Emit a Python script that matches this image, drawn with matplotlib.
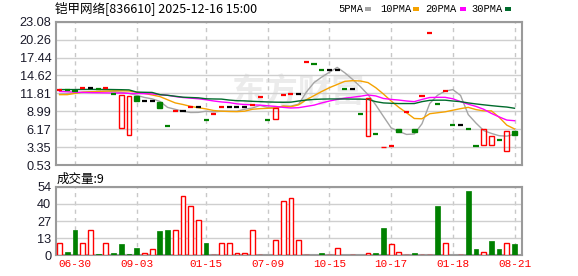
import matplotlib
matplotlib.use("Agg")
import matplotlib.pyplot as plt
from matplotlib.patches import Rectangle
import numpy as np

# daily candles (60 trading days)
opens = [12.33, 12.28, 12.2, 12.59, 12.59, 12.45, 12.59, 11.7, 6.42, 5.32,
         11.43, 10.6, 10.6, 10.4, 6.64, 9.08, 9.08, 9.62, 9.62, 7.58,
         8.57, 9.62, 9.62, 9.62, 9.62, 9.9, 11.18, 7.58, 7.74, 11.54,
         11.65, 11.65, 16.75, 16.35, 15.45, 15.45, 15.45, 12.45, 12.45, 8.55,
         5.07, 5.33, 3.3, 3.53, 6.2, 8.83, 6.2, 11.4, 21.37, 10.2,
         12.15, 6.85, 6.85, 6.25, 3.55, 3.63, 3.72, 4.5, 2.73, 5.9]
closes = [12.33, 12.28, 12.2, 12.59, 12.59, 12.45, 12.59, 11.7, 11.5, 11.42,
          10.6, 10.6, 10.6, 9.55, 6.64, 9.08, 9.08, 9.62, 9.62, 7.58,
          8.57, 9.62, 9.62, 9.62, 9.62, 9.9, 11.18, 7.58, 9.46, 11.54,
          11.65, 11.65, 16.75, 16.35, 15.45, 15.45, 15.45, 12.45, 12.45, 8.55,
          11.15, 5.33, 3.35, 3.53, 5.67, 8.83, 5.67, 11.4, 21.37, 10.2,
          12.15, 6.85, 6.85, 6.25, 3.55, 6.25, 5.13, 4.5, 5.9, 5.2]
pre_close = 12.2
volumes = [9.4, 2.8, 19.9, 9.4, 19.9, 1.0, 9.4, 1.8, 8.9, 1.0,
           5.7, 1.8, 4.7, 19.1, 19.9, 19.9, 46.7, 38.8, 27.8, 9.7,
           0.6, 9.4, 9.4, 1.8, 1.8, 19.9, 0.6, 0.6, 12.0, 42.7,
           44.9, 11.8, 0.6, 0.6, 1.8, 0.6, 5.5, 0.6, 0.6, 0.6,
           1.8, 1.8, 21.5, 8.9, 2.6, 0.6, 1.8, 0.6, 0.6, 38.8,
           9.4, 0.6, 0.6, 50.6, 5.0, 2.6, 11.3, 5.0, 9.7, 8.9]

# moving average lines as drawn
ma5 = [11.7, 11.75, 11.85, 11.95, 12.05, 12.1, 12.15, 12.1, 11.95, 11.8,
       11.5, 11.16, 10.94, 10.55, 9.6, 9.29, 8.99, 8.79, 8.81, 9.0,
       8.89, 9.0, 9.0, 9.0, 9.3, 9.5, 9.9, 9.58, 9.55, 9.8,
       9.8, 10.1, 12.0, 13.5, 14.37, 15.13, 15.89, 15.03, 14.0, 12.87,
       11.6, 9.99, 8.17, 6.38, 5.81, 5.34, 5.41, 7.02, 10.2, 11.49,
       12.16, 12.39, 11.48, 8.46, 7.13, 5.95, 5.5, 5.14, 5.07, 5.35]
ma10 = [11.6, 11.6, 11.8, 12.0, 12.05, 12.1, 12.15, 12.2, 12.2, 12.17,
        12.0, 11.8, 11.55, 11.3, 10.8, 10.3, 10.05, 9.75, 9.55, 9.35,
        9.1, 9.0, 8.95, 8.93, 9.0, 9.3, 9.4, 9.45, 9.5, 9.8,
        9.7, 10.0, 10.8, 11.45, 12.1, 12.7, 13.2, 13.7, 13.8, 13.75,
        13.5, 12.7, 11.7, 10.6, 9.6, 8.75, 7.85, 7.8, 8.6, 8.75,
        8.9, 9.15, 9.4, 9.6, 9.25, 9.05, 9.05, 8.05, 6.8, 6.2]
ma20 = [12.1, 12.05, 12.0, 11.95, 11.92, 11.9, 11.88, 11.85, 11.85, 11.8,
        11.78, 11.75, 11.72, 11.6, 11.5, 11.3, 11.15, 11.05, 10.95, 10.8,
        10.6, 10.45, 10.35, 10.15, 10.05, 10.0, 9.95, 9.85, 9.75, 9.6,
        9.5, 9.55, 9.75, 9.95, 10.3, 10.6, 10.85, 11.05, 11.2, 11.35,
        11.55, 11.4, 11.0, 10.85, 10.75, 10.6, 10.5, 10.85, 11.15, 11.18,
        11.18, 10.95, 10.5, 10.1, 9.75, 9.3, 8.65, 8.1, 7.6, 7.5]
ma30 = [12.4, 12.4, 12.4, 12.42, 12.42, 12.42, 12.42, 12.4, 12.38, 12.35,
        12.0, 11.97, 11.95, 11.6, 11.5, 11.35, 11.2, 11.15, 11.1, 10.95,
        10.92, 10.9, 10.75, 10.65, 10.62, 10.55, 10.5, 10.45, 10.42, 10.4,
        10.42, 10.6, 10.75, 10.85, 10.9, 10.92, 10.92, 10.92, 10.9, 10.9,
        10.85, 10.5, 10.3, 10.24, 10.2, 10.2, 10.2, 10.5, 10.7, 10.73,
        10.73, 10.6, 10.5, 10.3, 10.14, 10.0, 9.87, 9.75, 9.65, 9.46]

price_ticks = [0.53, 3.35, 6.17, 8.99, 11.81, 14.62, 17.44, 20.26, 23.08]
vol_ticks = [0, 13.5, 27, 40.5, 54]
vol_labels = ["0", "13", "27", "40", "54"]
tick_idx = [2, 10, 19, 27, 35, 43, 51, 59]
tick_labels = ["06-30", "09-03", "01-15", "07-09", "10-15", "10-17", "01-18", "08-21"]

RED = "#ff0000"
GREEN = "#008000"
ma_colors = ["#a5a5a5", "#f5a200", "#ff00ff", "#006b2c"]
ma_names = ["5PMA", "10PMA", "20PMA", "30PMA"]

fig = plt.figure(figsize=(5.78, 2.76), dpi=100)
W, H = 578.0, 276.0
x0, x1 = 55.5, 522.0
ax = fig.add_axes([x0 / W, 1 - 165 / H, (x1 - x0) / W, (165 - 21.7) / H])
axv = fig.add_axes([x0 / W, 1 - 255.3 / H, (x1 - x0) / W, (255.3 - 186.7) / H])

x = np.arange(len(closes))
prev = [pre_close] + closes[:-1]


def style(a):
    a.set_xlim(-0.53, 59.97)
    for s in a.spines.values():
        s.set_color("#9a9a9a")
        s.set_linewidth(1.5)
    a.tick_params(length=0, pad=3)
    a.set_axisbelow(True)
    a.grid(axis="y", color="#cfcfcf", linewidth=1)
    for t in tick_idx:
        a.axvline(t, color="#c8c8c8", linewidth=1, linestyle=(0, (3, 3)), zorder=0.5)
    a.set_xticks(tick_idx)


style(ax)
style(axv)

# price panel
ax.set_ylim(0.53, 23.08)
ax.set_yticks(price_ticks)
ax.set_yticklabels(["%.2f" % p for p in price_ticks], family="Liberation Sans", fontsize=9.2, color="#1a1a2a")
ax.set_xticklabels([])
ax.text(0.52, 0.5, "东方财富", transform=ax.transAxes, fontsize=24, color="#ebebeb",
        family="Noto Sans CJK SC", fontweight="bold", ha="center", va="center", zorder=0.4)

for i, a in enumerate([ma5, ma10, ma20, ma30]):
    ax.plot(x, a, color=ma_colors[i], linewidth=1, zorder=2)

for i in x:
    o, c = opens[i], closes[i]
    if c > o:
        ax.bar(i, c - o, bottom=o, width=0.62, facecolor="none", edgecolor=RED, linewidth=1, zorder=3)
    elif c < o:
        ax.bar(i, o - c, bottom=c, width=0.62, facecolor=GREEN, edgecolor=GREEN, linewidth=1, zorder=3)
    else:
        col = RED if c > prev[i] else (GREEN if c < prev[i] else "black")
        ax.hlines(c, i - 0.33, i + 0.33, color=col, linewidth=1.6, zorder=3)

# volume panel
axv.set_ylim(0, 54)
axv.set_yticks(vol_ticks)
axv.set_yticklabels(vol_labels, family="Liberation Sans", fontsize=9.2, color="#1a1a2a")
axv.set_xticklabels(tick_labels, family="Liberation Mono", fontsize=7.9, color=RED)
for i in x:
    if closes[i] >= prev[i]:
        axv.bar(i, volumes[i], width=0.62, facecolor="white", edgecolor=RED, linewidth=1, zorder=3)
    else:
        axv.bar(i, volumes[i], width=0.62, facecolor=GREEN, edgecolor=GREEN, linewidth=0.5, zorder=3)

fig.text(57 / W, 1 - 179 / H, "成交量:%d" % round(volumes[-1]), family="Noto Sans CJK SC",
         fontsize=9, va="center", ha="left")
fig.text(55 / W, 1 - 8.5 / H, "铠甲网络[836610] 2025-12-16 15:00", family="Noto Sans CJK SC",
         fontsize=9, va="center", ha="left")

# legend along the top right
lx = [338, 380, 425, 471]
sq = [365, 413, 460, 505]
for name, col, tx, sx in zip(ma_names, ma_colors, lx, sq):
    fig.text(tx / W, 1 - 9 / H, name, family="Liberation Mono", fontsize=7.5, va="center", ha="left")
    fig.patches.append(Rectangle((sx / W, 1 - 10.5 / H), 6 / W, 3.5 / H, transform=fig.transFigure,
                                 facecolor=col, edgecolor="none"))

fig.savefig("out.png", dpi=100)
